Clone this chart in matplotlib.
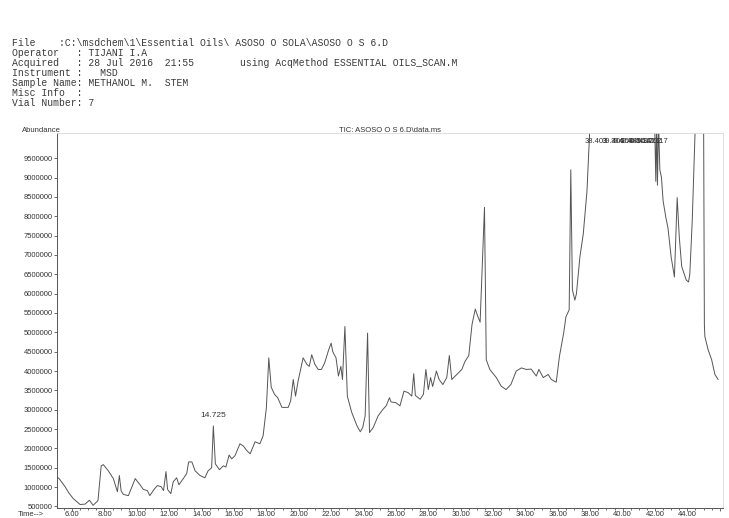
import matplotlib
matplotlib.use("Agg")
import matplotlib.pyplot as plt
from matplotlib.ticker import MultipleLocator, FixedLocator, FuncFormatter

times = [5.10, 5.20, 5.57, 5.80, 6.08, 6.30, 6.50, 6.80, 7.07, 7.30, 7.60, 7.80, 7.93,
         8.24, 8.55, 8.80, 8.92, 9.03, 9.17, 9.48, 9.90, 10.20, 10.40, 10.65, 10.80,
         11.10, 11.27, 11.50, 11.65, 11.80, 11.90, 12.10, 12.25, 12.46, 12.60, 12.87,
         13.08, 13.20, 13.40, 13.60, 13.90, 14.20, 14.40, 14.62, 14.725, 14.85, 15.10,
         15.34, 15.50, 15.70, 15.86, 16.06, 16.37, 16.58, 16.80, 17.00, 17.30, 17.60,
         17.80, 18.00, 18.15, 18.30, 18.50, 18.70, 18.96, 19.35, 19.50, 19.66, 19.80,
         19.96, 20.27, 20.50, 20.65, 20.80, 21.00, 21.20, 21.40, 21.60, 21.85, 22.00,
         22.10, 22.30, 22.45, 22.60, 22.70, 22.85, 23.00, 23.27, 23.60, 23.80, 23.95,
         24.10, 24.25, 24.37, 24.60, 24.90, 25.20, 25.40, 25.60, 25.70, 26.00, 26.25,
         26.50, 26.76, 26.98, 27.10, 27.20, 27.50, 27.70, 27.85, 28.00, 28.14, 28.27,
         28.50, 28.67, 28.90, 29.14, 29.30, 29.45, 29.76, 30.07, 30.27, 30.50, 30.70,
         30.90, 31.05, 31.20, 31.47, 31.58, 31.80, 32.20, 32.50, 32.80, 33.10, 33.43,
         33.75, 34.05, 34.35, 34.67, 34.83, 35.10, 35.40, 35.60, 35.90, 36.10, 36.36,
         36.50, 36.70, 36.80, 36.90, 37.05, 37.15, 37.36, 37.57, 37.80, 37.90, 38.00,
         38.40, 39.40, 40.40, 41.40, 41.95, 42.05, 42.10, 42.15, 42.22, 42.30, 42.40,
         42.50, 42.67, 42.80, 43.00, 43.20, 43.37, 43.50, 43.65, 43.80, 43.93, 44.07,
         44.15, 44.30, 44.50, 44.98, 45.05, 45.08, 45.28, 45.50, 45.70, 45.90]
abundance = [1250000, 1220000, 1010000, 850000, 700000, 620000, 550000, 560000, 660000,
             530000, 650000, 1550000, 1580000, 1420000, 1220000, 880000, 1300000, 900000,
             810000, 780000, 1220000, 1060000, 940000, 910000, 780000, 960000, 1040000,
             1010000, 910000, 1400000, 940000, 830000, 1140000, 1240000, 1060000, 1220000,
             1350000, 1650000, 1650000, 1420000, 1300000, 1240000, 1420000, 1500000,
             2580000, 1600000, 1450000, 1550000, 1520000, 1830000, 1730000, 1810000,
             2120000, 2060000, 1940000, 1860000, 2170000, 2120000, 2330000, 3050000,
             4340000, 3580000, 3400000, 3310000, 3060000, 3060000, 3230000, 3780000,
             3350000, 3740000, 4340000, 4170000, 4120000, 4420000, 4170000, 4040000,
             4040000, 4210000, 4550000, 4720000, 4500000, 4340000, 3870000, 4120000,
             3780000, 5150000, 3350000, 2930000, 2580000, 2430000, 2540000, 2840000,
             4980000, 2410000, 2540000, 2840000, 3010000, 3100000, 3310000, 3200000,
             3180000, 3100000, 3480000, 3440000, 3350000, 3930000, 3370000, 3270000,
             3400000, 4040000, 3520000, 3830000, 3600000, 4000000, 3780000, 3650000,
             3830000, 4400000, 3780000, 3910000, 4040000, 4250000, 4400000, 5200000,
             5600000, 5420000, 5260000, 8230000, 4290000, 4040000, 3830000, 3610000,
             3520000, 3650000, 4000000, 4080000, 4040000, 4050000, 3870000, 4040000,
             3830000, 3910000, 3780000, 3710000, 4380000, 4980000, 5400000, 5580000,
             9200000, 6100000, 5830000, 6000000, 6940000, 7540000, 8650000, 9600000,
             10500000, 13000000, 12500000, 12000000, 12000000, 11000000, 8900000,
             10500000, 8800000, 10400000, 9200000, 9000000, 8400000, 7970000, 7700000,
             6940000, 6430000, 8480000, 7460000, 6700000, 6510000, 6350000, 6300000,
             6500000, 7880000, 10500000, 13000000, 5200000, 4890000, 4550000, 4290000,
             3910000, 3780000]

y_ticks = [500000 * k for k in range(1, 20)]   # 500000 .. 9500000
peak_label_14 = ("14.725", 14.725, 2580000)
top_labels = ["38.403", "39.406", "39.958", "40.485", "40.961", "41.342", "41.702", "42.117"]
top_label_times = [38.403, 39.406, 39.958, 40.485, 40.961, 41.342, 41.702, 42.117]

header_lines = [
    "File    :C:\\msdchem\\1\\Essential Oils\\ ASOSO O SOLA\\ASOSO O S 6.D",
    "Operator   : TIJANI I.A",
    "Acquired   : 28 Jul 2016  21:55",
    "Instrument :   MSD",
    "Sample Name: METHANOL M.  STEM",
    "Misc Info  :",
    "Vial Number: 7",
]

plt.rcParams['font.family'] = ['Liberation Sans', 'DejaVu Sans']

W, H = 729, 518
fig = plt.figure(figsize=(W / 100, H / 100), dpi=100)
ax = fig.add_axes([57 / W, 1 - 508 / H, (723 - 57) / W, (508 - 133) / H])

ax.plot(times, abundance, color="#555555", lw=0.7)
ax.set_xlim(5.07, 46.2)
ax.set_ylim(460000, 10150000)

ax.yaxis.set_major_locator(FixedLocator(y_ticks))
ax.yaxis.set_major_formatter(FuncFormatter(lambda v, _: f"{int(round(v))}"))
ax.xaxis.set_major_locator(MultipleLocator(2))
ax.xaxis.set_minor_locator(MultipleLocator(0.5))
ax.xaxis.set_major_formatter(FuncFormatter(lambda v, _: f"{v:.2f}" if 6 <= v <= 44 else ""))
ax.tick_params(axis='both', which='both', direction='out', labelsize=5.5,
               colors="#555555", labelcolor="#333333", width=0.6)
ax.tick_params(axis='y', length=2.5, pad=0.5)
ax.tick_params(axis='x', which='major', length=2, pad=0.3)
ax.tick_params(axis='x', which='minor', length=1.6)

for side in ['left', 'bottom']:
    ax.spines[side].set_color("#555555")
    ax.spines[side].set_linewidth(0.7)
for side in ['top', 'right']:
    ax.spines[side].set_color("#d8d8d8")
    ax.spines[side].set_linewidth(0.6)

lbl, t, v = peak_label_14
ax.text(t, v + 180000, lbl, ha='center', va='bottom', fontsize=6, color="#333333")
for lab, t in zip(top_labels, top_label_times):
    ax.text(t, 9930000, lab, ha='center', va='center', fontsize=5.5, color="#333333",
            clip_on=False)

fig.text(22 / W, 1 - 131 / H, "Abundance", fontsize=5.5, color="#333333", va='center')
fig.text(339 / W, 1 - 131 / H, "TIC: ASOSO O S 6.D\\data.ms", fontsize=5.5,
         color="#333333", va='center')
fig.text(18 / W, 1 - 514 / H, "Time-->", fontsize=5.5, color="#333333", va='center')

line_y = [43, 53, 63, 73, 83, 93, 103]
for s, y in zip(header_lines, line_y):
    fig.text(12 / W, 1 - y / H, s, family="Liberation Mono", fontsize=7,
             color="#3a3a3a", va='center')
fig.text(240 / W, 1 - line_y[2] / H, "using AcqMethod ESSENTIAL OILS_SCAN.M",
         family="Liberation Mono", fontsize=7, color="#3a3a3a", va='center')

fig.savefig("out.png", dpi=100)
